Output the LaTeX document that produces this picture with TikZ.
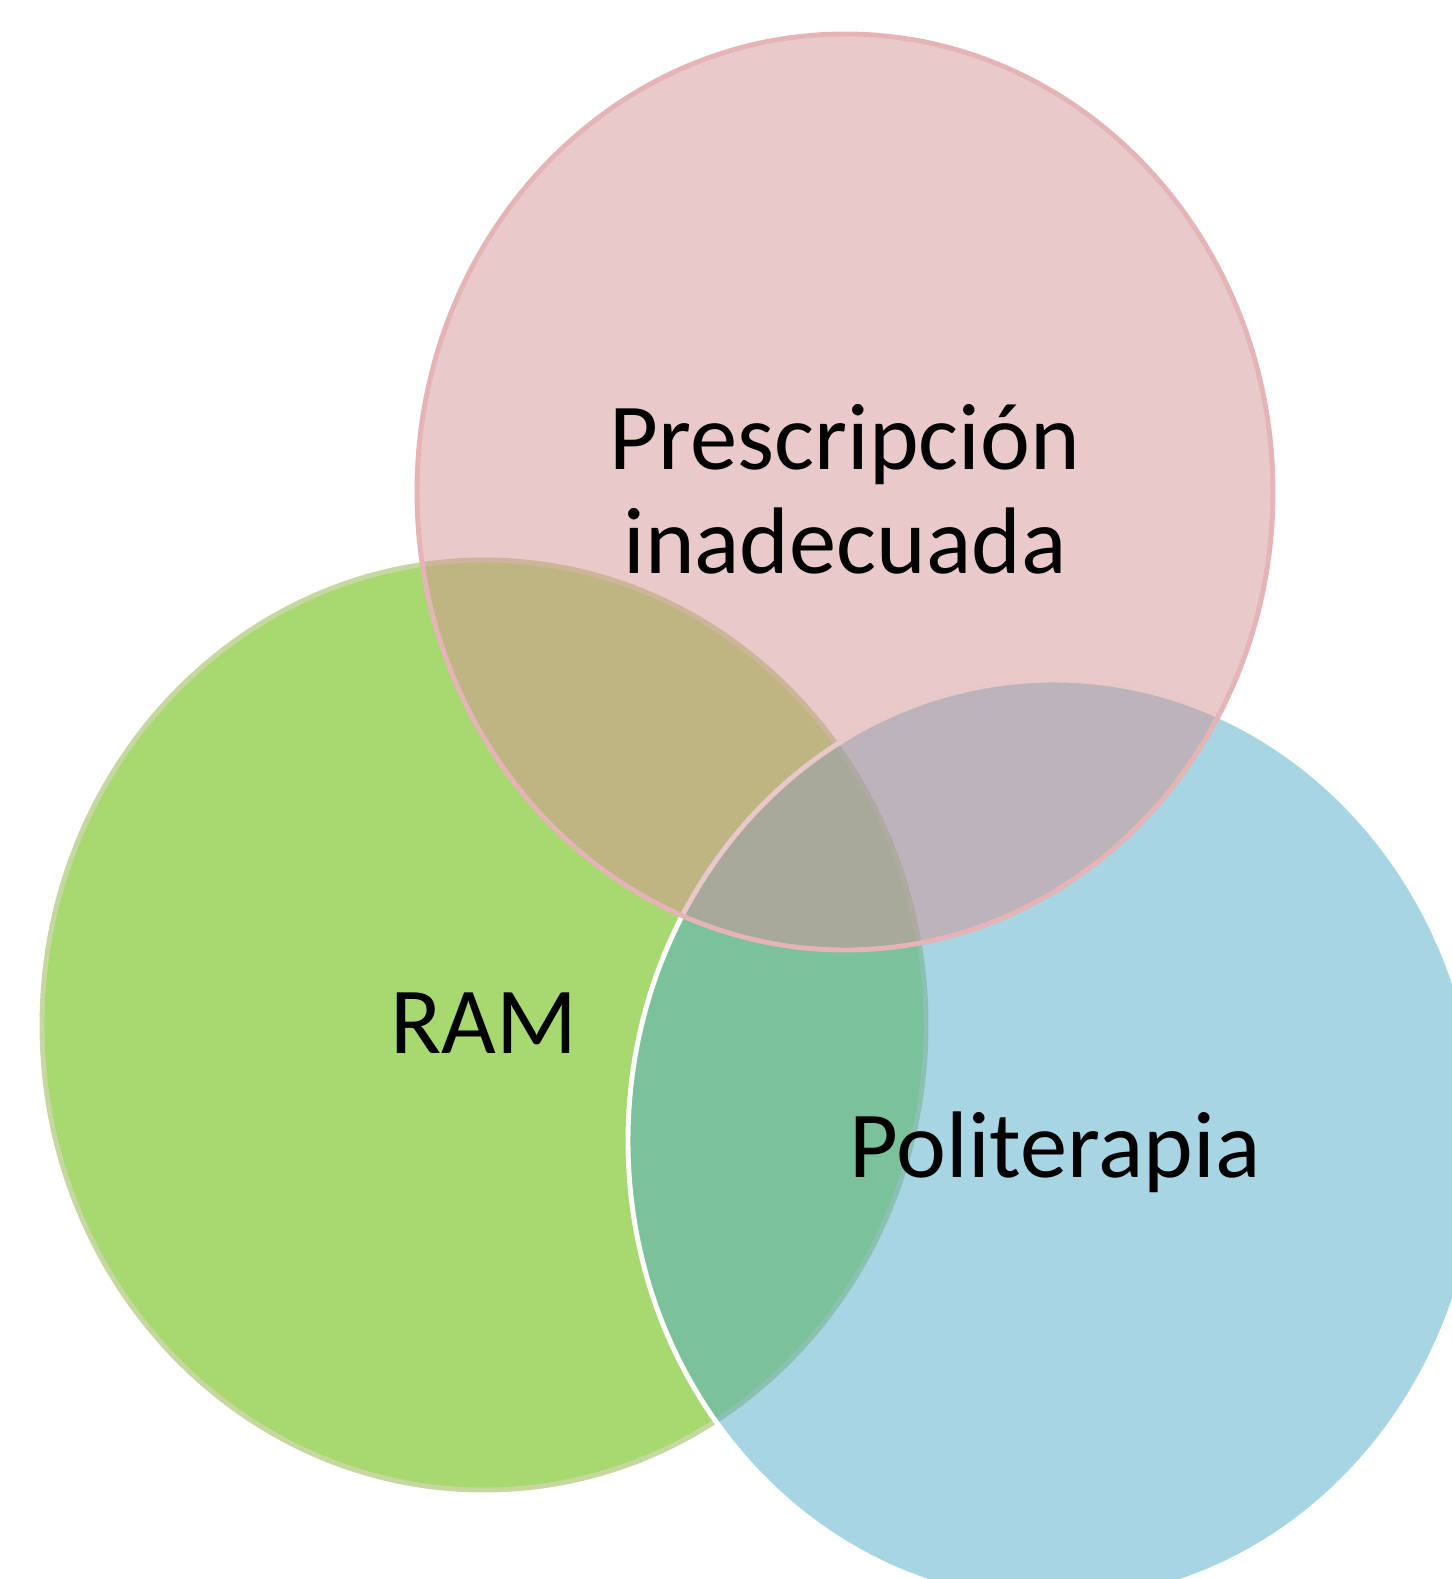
\documentclass[tikz,border=0pt]{standalone}
\usepackage{fontspec}
\setmainfont{Carlito}
\definecolor{ramgreen}{HTML}{A8D971}
\definecolor{ramedge}{HTML}{C6D8A0}
\definecolor{polblue}{HTML}{4FABC7}
\definecolor{prespink}{HTML}{D59395}
\definecolor{presedge}{HTML}{E4B4B6}

\begin{document}
\begin{tikzpicture}[venn/.style={line width=1.4pt}, lbl/.style={font=\fontsize{26.9}{29.5}\selectfont, align=center, inner sep=0pt}]
  \useasboundingbox (0,0) rectangle (14.52,-15.79);
  \begin{scope}
    \clip (0,0) rectangle (14.52,-15.79);
    \draw[venn, fill=ramgreen, draw=ramedge] (4.84,-10.25) ellipse [x radius=4.42, y radius=4.65];
    \draw[venn, fill=polblue, fill opacity=0.5, draw=white] (10.54,-11.41) ellipse [x radius=4.26, y radius=4.61];
    \draw[venn, fill=prespink, fill opacity=0.5, draw=presedge] (8.45,-4.92) ellipse [x radius=4.28, y radius=4.58];
  \end{scope}
  \node[lbl] (pres) at (8.45,-4.89) {Prescripción\\inadecuada};
  \node[lbl] (ram) at (4.84,-10.23) {RAM};
  \node[lbl] (poli) at (10.55,-11.52) {Politerapia};
\end{tikzpicture}
\end{document}
